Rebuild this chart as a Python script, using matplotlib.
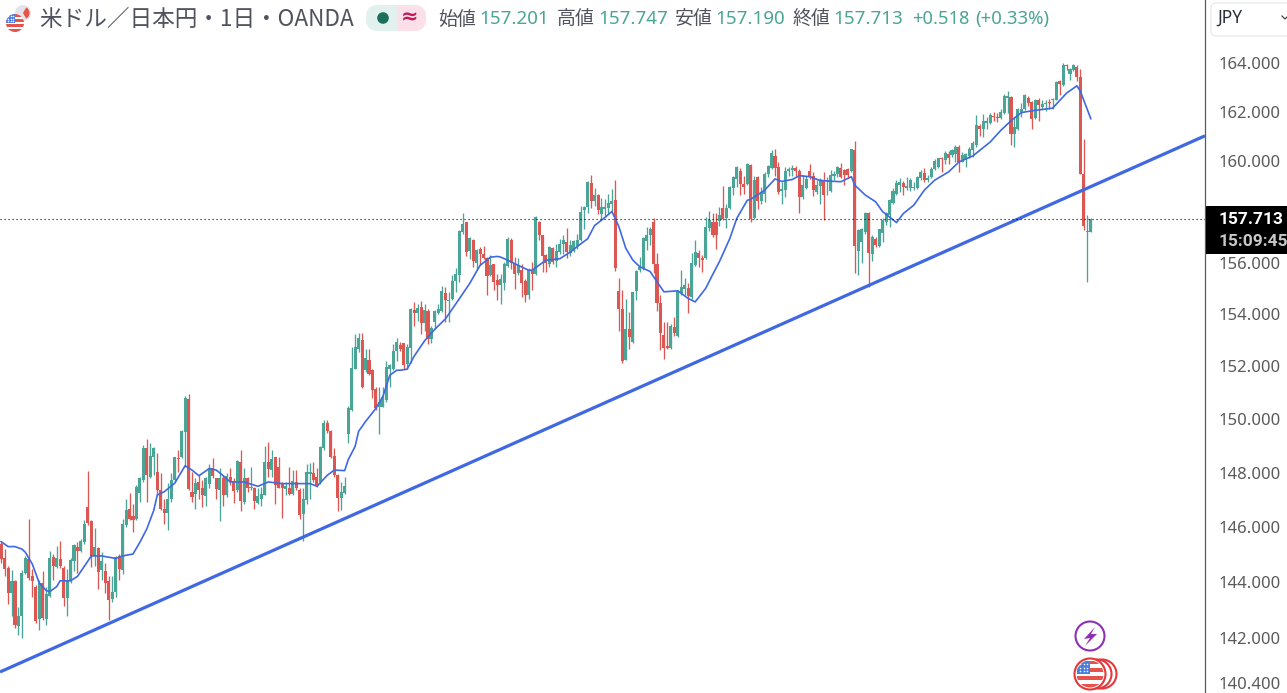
import numpy as np
import matplotlib
matplotlib.use("Agg")
import matplotlib.pyplot as plt
from matplotlib.patches import Circle, Rectangle, FancyBboxPatch, Wedge, Polygon
from matplotlib.ticker import NullFormatter

plt.rcParams['font.family'] = ['Noto Sans CJK JP', 'DejaVu Sans']

# daily candles
opens = [
    145.39,144.87,144.52,143.60,144.05,142.42,142.79,144.34,144.83,144.21,
    143.82,142.67,143.97,142.67,143.50,144.92,144.56,144.83,144.52,143.44,
    144.03,144.77,145.29,145.13,145.45,146.75,146.21,144.93,145.24,144.44,
    144.40,144.03,143.41,143.66,144.93,144.44,146.07,146.68,146.40,146.28,
    147.24,147.73,148.93,147.83,148.60,148.02,147.36,146.68,146.52,147.03,
    147.73,148.54,148.60,149.52,150.76,147.30,147.20,147.65,147.42,147.13,
    147.58,148.16,147.79,147.38,147.79,147.19,147.83,147.69,147.35,148.39,
    146.92,147.79,147.42,147.45,146.89,147.02,147.19,148.39,148.10,148.58,
    148.23,147.57,147.39,147.42,147.23,147.66,147.38,146.48,146.98,147.96,
    147.98,147.83,147.66,148.91,149.87,149.56,148.64,147.91,147.08,147.27,
    149.45,150.35,151.91,152.66,152.99,151.85,152.25,151.85,151.12,150.47,
    150.47,150.72,151.91,151.91,152.59,152.83,152.87,152.08,152.68,154.16,
    154.04,154.26,153.65,154.13,153.03,153.71,154.04,154.13,154.82,154.51,
    154.59,155.27,155.50,157.19,157.58,156.45,156.90,155.98,156.54,156.35,
    156.18,155.50,155.93,155.33,155.11,155.20,155.86,156.90,156.00,155.59,
    155.72,155.28,154.72,155.72,155.54,157.61,157.06,156.30,155.96,156.58,
    156.06,156.41,156.73,156.80,156.38,156.47,156.64,156.87,158.06,158.17,
    159.14,158.42,158.65,157.90,158.10,158.13,158.30,158.48,154.90,154.21,
    152.25,153.43,152.94,154.89,155.71,155.78,156.85,157.06,157.58,155.93,
    154.44,153.19,152.77,152.71,153.52,153.16,154.80,154.97,154.99,154.67,
    155.91,156.39,156.19,156.17,157.34,157.60,157.60,157.63,158.15,157.74,
    158.13,158.95,159.30,159.60,159.11,159.08,159.86,157.74,159.37,158.43,
    158.72,159.50,159.72,160.22,159.79,158.82,158.85,159.63,159.67,159.72,
    159.63,158.57,158.94,159.60,159.43,158.78,159.02,159.24,159.20,158.81,
    159.43,159.50,159.72,159.65,159.69,159.61,160.47,156.47,156.80,157.20,
    157.93,156.33,156.93,156.63,157.17,157.59,157.86,158.36,158.70,159.05,
    159.12,158.95,158.92,158.92,158.92,159.32,159.54,159.25,159.36,159.69,
    159.78,160.14,160.05,160.31,160.27,160.31,160.58,159.98,160.05,160.22,
    160.45,160.67,161.42,161.31,161.55,161.55,161.84,161.81,161.75,161.95,
    162.57,162.61,161.11,161.31,162.01,162.11,162.57,162.41,161.73,162.48,
    162.21,162.32,162.40,162.48,162.50,163.24,163.08,163.89,163.55,163.71,
    163.82,163.42,159.50,157.18,157.201,
]
highs = [
    145.45,145.20,144.58,144.44,144.09,143.10,144.44,144.95,146.31,144.46,
    143.90,144.09,144.40,143.84,145.12,145.02,145.30,145.49,144.58,144.46,
    144.89,145.39,145.45,145.57,146.25,148.08,146.25,145.98,145.26,145.08,
    144.71,144.21,144.21,144.95,145.02,146.31,147.03,147.24,146.84,147.55,
    147.86,149.03,149.24,149.09,148.97,148.72,147.98,147.05,147.61,147.98,
    148.60,148.84,149.59,150.88,150.94,148.04,147.80,147.92,147.75,147.85,
    148.33,148.56,147.81,148.16,147.91,147.98,148.16,147.79,148.48,148.85,
    148.16,147.85,148.23,147.48,147.42,147.48,148.98,149.16,148.85,148.60,
    148.60,147.67,147.67,148.23,148.10,148.10,147.42,147.42,148.33,148.35,
    148.41,148.16,148.98,149.97,149.97,149.60,148.91,147.95,147.67,147.85,
    150.51,152.72,153.22,153.26,153.28,152.66,152.66,151.91,151.22,151.22,
    151.22,152.22,152.10,152.84,153.09,152.93,152.90,152.84,154.23,154.46,
    154.39,154.50,154.39,154.20,153.55,154.17,154.39,155.08,155.04,154.85,
    155.50,155.79,157.29,157.94,157.61,156.99,156.93,156.54,156.60,156.63,
    156.22,156.28,155.96,155.57,155.57,156.02,157.02,156.96,156.22,156.18,
    155.96,155.37,155.79,156.02,157.84,157.65,157.09,156.35,156.64,156.60,
    156.73,156.93,157.06,157.35,156.87,156.90,157.13,158.23,158.23,159.21,
    159.47,158.95,158.72,158.56,158.52,158.69,158.91,159.26,155.41,154.95,
    154.60,154.08,154.86,155.71,156.23,157.02,157.41,157.41,157.76,156.36,
    154.73,153.69,153.71,153.62,153.88,154.93,155.71,155.39,155.19,156.36,
    156.89,156.49,156.30,157.80,158.02,157.93,157.93,158.19,159.00,158.32,
    159.00,159.41,159.80,159.72,159.43,159.93,159.89,159.43,159.41,158.98,
    159.56,159.85,160.45,160.48,159.98,159.17,159.76,159.76,159.85,159.83,
    159.69,159.46,159.43,159.89,159.56,159.24,159.33,159.56,159.37,159.67,
    159.63,159.83,159.92,159.69,159.74,160.51,160.81,157.33,157.35,158.00,
    158.00,157.06,157.00,157.33,157.75,158.00,158.50,158.92,159.25,159.32,
    159.21,159.39,159.32,159.19,159.43,159.65,159.72,159.45,159.78,160.08,
    160.15,160.18,160.41,160.41,160.51,160.65,160.65,160.38,160.35,160.58,
    160.81,161.87,161.51,161.91,161.81,161.97,162.00,161.97,162.13,162.74,
    162.84,162.64,161.77,162.17,162.37,162.74,162.66,162.44,162.53,162.57,
    162.50,162.50,162.53,162.57,163.26,163.31,163.99,163.96,163.78,163.96,
    163.92,163.75,160.90,157.87,157.747,
]
lows = [
    144.71,144.21,143.23,142.79,142.36,142.11,142.02,144.28,144.09,143.47,
    142.55,142.30,142.63,142.48,143.47,144.09,144.52,144.52,143.16,142.77,
    143.97,144.40,144.34,145.08,145.39,146.07,144.56,144.58,143.74,144.09,
    143.60,142.65,143.29,143.47,144.09,144.28,146.00,146.25,145.82,146.25,
    146.93,147.67,146.93,147.80,147.92,147.18,146.62,146.13,145.88,146.93,
    147.67,148.04,148.54,148.23,147.36,146.93,146.66,147.03,146.73,146.77,
    147.42,147.79,147.04,146.23,146.79,147.10,147.54,146.89,147.29,146.60,
    146.85,147.29,147.35,146.67,146.85,146.79,147.17,147.85,147.85,146.85,
    147.42,146.33,147.17,147.17,147.17,147.35,146.29,145.48,146.85,147.04,
    147.66,147.48,147.60,148.85,149.47,148.56,147.85,146.60,146.64,147.23,
    149.10,150.31,151.88,152.53,151.18,151.78,151.66,150.78,150.35,149.45,
    150.44,150.66,151.22,151.85,152.22,152.58,151.89,151.89,152.12,153.55,
    153.75,153.23,153.36,152.84,152.87,153.42,154.00,154.07,153.68,153.68,
    154.53,154.85,155.24,157.13,156.25,156.15,155.83,155.69,155.89,156.12,
    154.72,155.47,154.92,154.56,154.39,154.95,155.83,155.76,154.98,155.50,
    154.65,154.46,154.59,154.92,155.50,156.87,155.63,155.63,155.83,155.96,
    155.83,156.35,156.35,156.18,156.25,156.41,156.54,156.83,157.32,157.94,
    158.13,158.23,157.91,157.71,157.84,157.91,158.04,155.67,153.36,152.12,
    152.23,152.67,152.88,154.54,155.65,155.71,156.49,156.69,155.58,154.10,
    152.62,152.29,152.64,152.67,153.16,153.10,154.73,154.73,154.05,154.60,
    155.88,155.84,155.62,156.14,157.24,157.02,156.53,157.45,157.67,157.37,
    158.10,158.65,158.98,158.65,158.72,159.04,157.60,157.71,158.10,158.32,
    158.39,159.37,159.69,159.41,158.72,158.32,158.58,159.43,159.43,159.43,
    157.93,158.52,158.91,159.30,158.62,158.72,158.32,157.67,158.65,158.78,
    159.24,159.37,159.35,159.05,159.32,159.58,155.58,155.50,156.00,157.13,
    155.05,156.07,156.60,156.60,156.80,157.46,157.39,158.32,158.66,158.79,
    158.66,158.85,158.81,158.85,158.89,159.25,159.16,159.16,159.32,159.65,
    159.72,159.58,159.88,159.88,160.18,159.98,159.58,159.96,159.78,160.14,
    160.18,160.58,161.02,160.98,161.31,161.51,161.64,161.57,161.71,161.91,
    161.97,160.67,160.58,161.28,161.77,162.08,162.24,161.31,161.71,161.64,
    162.11,162.04,162.13,162.11,162.48,162.70,163.04,163.69,163.31,163.65,
    163.24,159.50,157.29,155.23,157.19,
]
closes = [
    144.83,144.46,143.60,144.03,142.48,142.79,144.34,144.86,144.15,144.03,
    142.61,143.97,142.71,143.57,144.86,144.58,144.89,144.58,143.44,144.09,
    144.79,145.33,145.13,145.49,146.13,146.16,144.93,145.26,144.37,144.77,
    143.97,143.35,143.66,144.92,144.46,146.10,146.62,146.31,146.25,147.46,
    147.80,148.91,147.92,148.62,148.91,147.36,146.66,146.50,147.05,147.73,
    148.60,148.50,149.56,150.80,147.40,147.09,147.61,147.36,147.17,147.79,
    148.19,147.88,147.39,147.79,147.17,147.89,147.66,147.32,148.44,146.94,
    147.79,147.42,147.48,146.94,147.13,147.23,148.39,148.14,148.51,147.54,
    147.45,147.42,147.51,147.23,147.70,147.42,146.45,147.04,148.04,148.04,
    147.73,147.54,148.95,149.84,149.54,148.60,147.91,147.08,147.29,147.51,
    150.41,151.93,152.72,153.09,151.20,152.31,151.72,151.10,150.41,150.66,
    150.85,151.97,152.03,152.59,152.91,152.64,152.06,152.74,154.20,154.03,
    154.23,153.65,154.17,153.06,153.45,154.13,154.20,154.88,154.55,154.55,
    155.30,155.54,157.23,157.51,156.42,156.97,156.06,156.50,156.32,156.18,
    155.47,155.92,155.24,155.14,155.37,155.96,156.93,156.00,155.57,155.89,
    155.21,154.72,155.70,155.55,157.80,157.06,156.24,155.98,156.60,156.02,
    156.45,156.73,156.90,156.41,156.70,156.83,156.90,157.97,158.19,159.17,
    158.42,158.65,158.07,158.17,158.17,158.33,158.42,155.78,154.21,152.19,
    153.43,153.10,154.84,155.67,155.84,156.95,157.08,157.32,155.93,154.41,
    153.27,152.71,152.68,153.56,153.27,154.90,155.06,155.12,154.69,155.97,
    156.43,156.17,156.10,157.41,157.67,157.06,157.08,157.87,157.70,158.13,
    158.98,159.37,159.76,159.11,158.98,159.89,157.70,159.26,158.43,158.78,
    159.50,159.83,160.32,159.72,158.78,158.91,159.63,159.68,159.72,159.63,
    158.58,159.04,159.30,159.39,158.85,159.04,159.24,158.65,159.24,159.46,
    159.50,159.76,159.39,159.45,159.45,160.51,156.63,157.26,157.33,157.95,
    156.37,157.00,156.69,157.30,157.69,157.93,158.46,158.83,159.12,159.16,
    158.99,159.03,159.25,158.99,159.36,159.58,159.25,159.35,159.69,160.01,
    160.12,160.08,160.35,160.12,160.45,160.58,159.98,160.27,160.31,160.51,
    160.75,161.47,161.31,161.61,161.64,161.87,161.77,161.75,162.01,162.66,
    162.64,161.11,161.38,162.13,162.11,162.70,162.37,161.71,162.50,162.27,
    162.30,162.37,162.34,162.53,163.23,163.13,163.89,163.85,163.74,163.89,
    163.42,159.50,157.42,157.22,157.713,
]

# moving average, candle number and price
ma_idx = [0,2,4,6,7,9,11,13,14,16,17,20,22,24,26,29,33,35,38,40,42,44,45,47,50,53,55,57,
          60,62,64,66,70,72,74,77,81,85,89,91,94,96,99,100,102,103,105,108,110,112,114,115,
          117,119,122,125,128,131,135,138,141,143,144,146,149,152,153,157,161,164,167,169,171,174,176,
          178,180,182,184,187,189,191,195,198,200,203,205,207,210,212,215,216,220,223,225,228,230,233,236,
          239,242,245,246,249,252,254,256,258,260,263,266,269,273,276,280,285,288,291,294,297,303,307,310,311,314]
ma_val = [145.47,145.29,145.29,145.20,145.08,144.65,143.97,143.70,143.66,143.84,144.05,144.05,144.21,144.58,144.95,144.95,144.86,144.95,145.02,145.45,145.94,146.62,147.18,147.30,147.61,148.26,148.10,147.89,
          148.16,148.10,147.89,147.66,147.66,147.58,147.50,147.66,147.60,147.60,147.60,147.50,147.91,148.10,148.08,148.48,148.98,149.54,149.91,150.41,150.85,151.66,151.85,151.85,
          151.89,152.38,152.97,153.42,153.81,154.39,155.18,155.89,156.21,156.24,156.21,156.09,155.89,155.70,155.70,156.09,156.15,156.41,156.73,156.93,157.45,157.77,158.01,
          157.41,156.56,156.10,155.84,155.65,155.25,154.86,154.90,154.60,154.47,154.99,155.52,156.04,156.95,157.74,158.45,158.49,158.85,159.30,159.20,159.28,159.43,159.39,159.24,
          159.21,159.19,159.39,159.05,158.66,158.39,158.00,157.79,157.57,157.93,158.26,158.85,159.25,159.58,159.98,160.22,160.78,161.24,161.64,161.97,162.04,162.15,162.76,163.06,162.83,161.72]

# hand drawn trend line
trend_idx = [-0.32, 346.9]
trend_val = [140.8, 161.03]

price_ticks = [164, 162, 160, 158, 156, 154, 152, 150, 148, 146, 144, 142, 140.4]

GREEN = '#4aa596'
RED = '#dc5652'
BLUE = '#3f68e2'
TEXT = '#50535e'

fig = plt.figure(figsize=(12.87, 6.93), dpi=100, facecolor='white')
ax = fig.add_axes([0, 0, 1205 / 1287, 1])
ax.set_yscale('log')

idx = np.arange(len(opens))
o = np.array(opens)
h = np.array(highs)
l = np.array(lows)
c = np.array(closes)
colors = [GREEN if c[i] >= o[i] else RED for i in idx]

ax.vlines(idx, l, h, colors=colors, linewidth=0.95, zorder=2)
ax.bar(idx, np.abs(c - o), bottom=np.minimum(o, c), width=0.88, color=colors, linewidth=0, zorder=3)
ax.plot(ma_idx, ma_val, color=BLUE, linewidth=1.2, zorder=4, solid_joinstyle='round')
ax.plot(trend_idx, trend_val, color=BLUE, linewidth=2.3, zorder=5, solid_capstyle='butt')
ax.axhline(c[-1], color='black', linewidth=0.8, linestyle=(0, (1, 2.6)), zorder=6)

ax.set_xlim(-0.323, 346.9)
ax.set_ylim(140.06, 166.6)
ax.xaxis.set_visible(False)
ax.yaxis.tick_right()
ax.set_yticks(price_ticks)
ax.set_yticklabels([f"{t:.3f}" for t in price_ticks], family='Noto Sans', fontsize=12, color='#5a5a5a')
ax.yaxis.set_minor_formatter(NullFormatter())
ax.tick_params(axis='y', which='both', length=0, pad=10)
for s in ['top', 'left', 'bottom']:
    ax.spines[s].set_visible(False)
ax.spines['right'].set_color('#5c5c5c')
ax.spines['right'].set_linewidth(0.9)

# overlay in pixels for header, price box and icons
ov = fig.add_axes([0, 0, 1, 1], zorder=3)
ov.set_xlim(0, 1287)
ov.set_ylim(693, 0)
ov.axis('off')
ov.patch.set_alpha(0)


def draw_flag(cx, cy, r):
    disc = Circle((cx, cy), r, transform=ov.transData, facecolor='white', edgecolor='none')
    ov.add_patch(disc)
    for k in range(0, 7, 2):
        stripe = Rectangle((cx - r, cy - r + k * 2 * r / 7), 2 * r, 2 * r / 7, facecolor='#e5534b', edgecolor='none')
        ov.add_patch(stripe)
        stripe.set_clip_path(disc)
    canton = Rectangle((cx - r, cy - r), r, r, facecolor='#4a7fe0', edgecolor='none')
    ov.add_patch(canton)
    canton.set_clip_path(disc)
    dx = np.linspace(cx - r * 0.75, cx - r * 0.2, 3)
    dy = np.linspace(cy - r * 0.75, cy - r * 0.2, 3)
    xx, yy = np.meshgrid(dx, dy)
    ov.scatter(xx.ravel(), yy.ravel(), s=1.2, color='white', linewidths=0, zorder=3)


# symbol line
ov.add_patch(Circle((23, 13), 8, facecolor='#e4e4e8', edgecolor='none'))
ov.add_patch(Wedge((23, 13), 6.5, 300, 60, facecolor='#e5534b', edgecolor='none'))
draw_flag(15, 23, 9)
ov.text(39, 20, "米ドル／日本円・1日・OANDA", fontsize=16.3, color=TEXT, va='center', ha='left')

ov.add_patch(FancyBboxPatch((397, 5), 29, 26, boxstyle="round,pad=0,rounding_size=12", facecolor='#fbdfe9', edgecolor='none'))
ov.add_patch(Rectangle((397, 5), 12, 26, facecolor='#fbdfe9', edgecolor='none'))
ov.add_patch(FancyBboxPatch((366, 5), 31, 26, boxstyle="round,pad=0,rounding_size=12", facecolor='#e3f1ee', edgecolor='none'))
ov.add_patch(Rectangle((384, 5), 13, 26, facecolor='#e3f1ee', edgecolor='none'))
ov.add_patch(Circle((383, 18), 5.8, facecolor='#1c6f5c', edgecolor='none'))
ov.text(410, 17.5, "≈", fontsize=15, color='#c2185b', va='center', ha='center', family='DejaVu Sans', fontweight='bold')

# ohlc line
for lab, xl, val, xv in [("始値", 438, "157.201", 479), ("高値", 557, "157.747", 598),
                        ("安値", 675, "157.190", 715), ("終値", 793, "157.713", 833)]:
    ov.text(xl, 19, lab, fontsize=13.6, color=TEXT, va='center', ha='left')
    ov.text(xv, 19, val, fontsize=13.5, color=GREEN, va='center', ha='left', family='Noto Sans')
ov.text(912, 19, "+0.518", fontsize=13.2, color=GREEN, va='center', ha='left', family='Noto Sans')
ov.text(975, 19, "(+0.33%)", fontsize=13.4, color=GREEN, va='center', ha='left', family='Noto Sans')

# currency box
ov.add_patch(FancyBboxPatch((1211, 3), 90, 33, boxstyle="round,pad=0,rounding_size=5", facecolor='white', edgecolor='#e4e6ec', linewidth=0.8))
ov.text(1217, 18, "JPY", fontsize=12.5, color='#2a2e39', va='center', ha='left', family='Noto Sans')
ov.plot([1282, 1285, 1288], [16, 19, 16], color='#444444', linewidth=0.9)

# last price box
ov.add_patch(Rectangle((1206, 206), 81, 48, facecolor='black', edgecolor='none'))
ov.text(1219, 220, "157.713", fontsize=12.5, color='white', fontweight='bold', va='center', ha='left', family='Roboto')
ov.text(1219, 241, "15:09:45", fontsize=12.5, color='#c8c8c8', fontweight='bold', va='center', ha='left', family='Roboto')

# icons near the bottom
ov.add_patch(Circle((1090, 636), 14.5, facecolor='white', edgecolor='#8e2fb4', linewidth=1.5))
ov.add_patch(Polygon([(1095, 627), (1084, 639), (1090, 638), (1085, 646), (1097, 634), (1091, 634)], facecolor='#8e2fb4', edgecolor='none'))
for cx in [1102, 1097]:
    ov.add_patch(Circle((cx, 674), 14.5, facecolor='white', edgecolor='#e3393c', linewidth=1.5))
ov.add_patch(Circle((1090, 674), 15.5, facecolor='white', edgecolor='#e3393c', linewidth=1.5))
draw_flag(1090, 674, 13.5)

fig.savefig('out.png', dpi=100)
